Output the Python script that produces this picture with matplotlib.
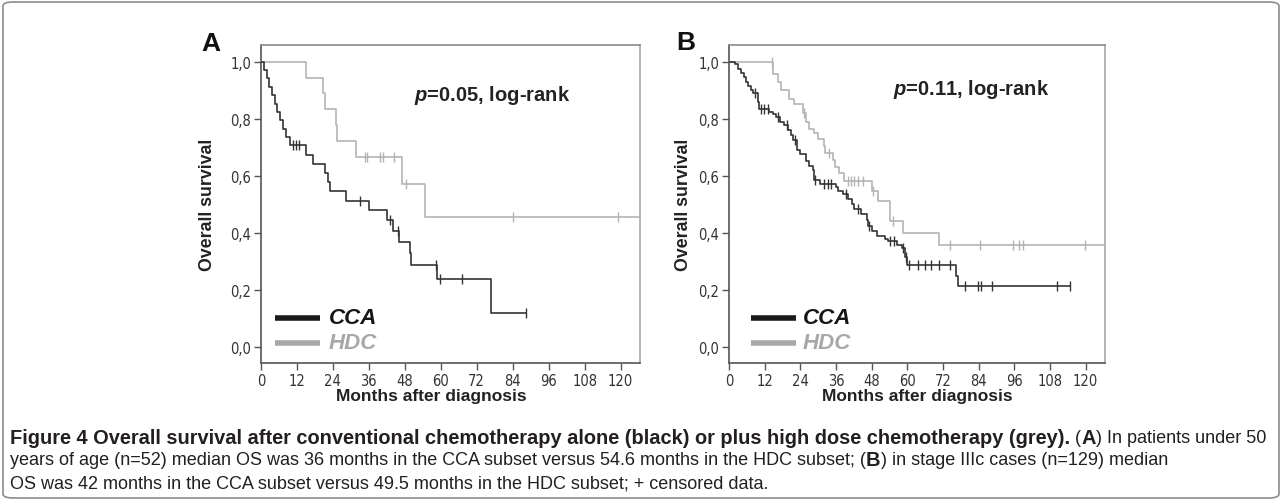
import matplotlib
matplotlib.use("Agg")
import matplotlib.pyplot as plt
import numpy as np
from matplotlib.patches import FancyBboxPatch

# Panel A: patients under 50 (time of drop in months, survival after the drop)
a_cca_t = [1.0, 1.9, 2.8, 3.7, 4.6, 5.5, 6.4, 7.4, 8.5, 9.7, 15.1, 17.3, 21.2, 22.3, 22.9,
           28.4, 36.1, 41.9, 43.9, 46.1, 49.7, 50.0, 58.8, 76.7]
a_cca_s = [0.971, 0.941, 0.912, 0.882, 0.853, 0.824, 0.794, 0.765, 0.735, 0.706, 0.674, 0.642,
           0.610, 0.578, 0.546, 0.512, 0.480, 0.446, 0.407, 0.369, 0.331, 0.287, 0.238, 0.119]
a_cca_cens = [10.6, 11.6, 12.6, 33.0, 42.9, 45.7, 58.5, 59.8, 67.2, 88.3]
a_cca_end = 88.3

a_hdc_t = [15.0, 20.6, 21.3, 25.0, 25.4, 31.7, 47.2, 54.7]
a_hdc_s = [0.944, 0.889, 0.833, 0.778, 0.722, 0.667, 0.571, 0.457]
a_hdc_cens = [34.7, 35.4, 39.7, 40.6, 44.4, 48.3, 84.0, 119.0]
a_hdc_end = 130.0

# Panel B: stage IIIc
b_cca_t = [2.0, 3.0, 4.0, 5.0, 5.7, 6.5, 7.3, 8.0, 9.6, 10.2, 13.6, 14.7, 15.8, 17.0, 18.6,
           20.0, 20.9, 21.5, 22.9, 24.0, 25.9, 27.0, 28.2, 28.7, 30.5, 36.0, 36.8, 38.5, 40.0,
           41.3, 42.2, 44.4, 46.4, 46.9, 48.2, 49.7, 52.5, 53.5, 56.5, 58.2, 59.2, 59.8, 76.5, 77.2]
b_cca_s = [0.99, 0.975, 0.96, 0.945, 0.93, 0.915, 0.90, 0.89, 0.86, 0.835, 0.825, 0.815, 0.805,
           0.79, 0.777, 0.76, 0.742, 0.725, 0.69, 0.675, 0.65, 0.635, 0.62, 0.585, 0.571, 0.559,
           0.545, 0.535, 0.52, 0.50, 0.485, 0.465, 0.446, 0.423, 0.405, 0.388, 0.377, 0.370,
           0.358, 0.347, 0.317, 0.289, 0.25, 0.214]
b_cca_cens = [8.7, 10.8, 11.9, 13.0, 16.4, 19.4, 22.3, 28.9, 31.8, 33.2, 34.3, 39.4, 43.4, 47.0,
              54.2, 55.5, 58.7, 59.4, 60.4, 63.7, 65.8, 67.9, 70.5, 74.2, 79.5, 83.7, 84.8, 88.4,
              110.3, 114.8]
b_cca_end = 114.8

b_hdc_t = [14.7, 16.4, 17.5, 20.3, 22.0, 24.8, 25.9, 27.0, 28.7, 30.0, 31.8, 32.3, 35.0, 35.7,
           37.0, 38.8, 48.0, 50.0, 54.2, 58.7, 70.8]
b_hdc_s = [0.957, 0.93, 0.90, 0.87, 0.85, 0.82, 0.79, 0.765, 0.75, 0.73, 0.705, 0.68, 0.655,
           0.632, 0.61, 0.58, 0.545, 0.51, 0.44, 0.40, 0.358]
b_hdc_cens = [14.5, 25.2, 33.5, 40.0, 41.1, 42.2, 43.3, 45.0, 48.6, 55.3, 74.4, 84.3, 95.7,
              97.4, 98.9, 119.9]
b_hdc_end = 130.0

x_ticks = list(range(0, 121, 12))
y_ticks = [0.0, 0.2, 0.4, 0.6, 0.8, 1.0]
y_labels = ["0,0", "0,2", "0,4", "0,6", "0,8", "1,0"]
groups = ["CCA", "HDC"]
p_texts = ["0.05", "0.11"]

DARK = "#333333"
LIGHT = "#b4b4b4"
SANS = ["Liberation Sans", "DejaVu Sans"]

plt.rcParams["mathtext.fontset"] = "custom"
plt.rcParams["mathtext.bfit"] = "Liberation Sans:bold:italic"
plt.rcParams["mathtext.bf"] = "Liberation Sans:bold"


def km_curve(ax, times, surv, cens, end, color):
    t = np.array([0.0] + times + [end])
    s = np.array([1.0] + surv + [surv[-1]])
    ax.step(t, s, where="post", color=color, lw=1.2, zorder=3, clip_on=True)
    idx = np.searchsorted(t, np.array(cens), side="right") - 1
    ax.plot(cens, s[idx], ls="none", marker="|", ms=7, mew=1.0, color=color, zorder=3)


def style_axes(ax):
    ax.set_xlim(0, 126.5)
    ax.set_ylim(-0.056, 1.058)
    ax.set_xticks(x_ticks)
    ax.set_xticklabels([str(v) for v in x_ticks], family="DejaVu Sans", stretch="condensed",
                       fontsize=10.5, color="#333333")
    ax.set_yticks(y_ticks)
    ax.set_yticklabels(y_labels, family="DejaVu Sans", stretch="condensed",
                       fontsize=10.5, color="#333333")
    ax.tick_params(direction="out", length=5, width=1, color="#555555", pad=2)
    ax.spines["left"].set_color("#555555")
    ax.spines["bottom"].set_color("#555555")
    ax.spines["top"].set_color("#8a8a8a")
    ax.spines["right"].set_color("#a8a8a8")
    for sp in ax.spines.values():
        sp.set_linewidth(1.2)


def legend(ax, x0, x1, xt):
    for (y, col, tcol, name) in [(0.142, "#1a1a1a", "#151515", groups[0]),
                                 (0.063, "#a8a8a8", "#a8a8a8", groups[1])]:
        ax.plot([x0, x1], [y, y], color=col, lw=4, transform=ax.transAxes, solid_capstyle="butt")
        ax.text(xt, y, name, transform=ax.transAxes, fontsize=16, fontweight="bold",
                style="italic", color=tcol, va="center", ha="left", family=SANS)


fig = plt.figure(figsize=(12.82, 5.02), dpi=100)

axA = fig.add_axes([261 / 1282, 138 / 502, 379 / 1282, 318 / 502])
axB = fig.add_axes([729 / 1282, 138 / 502, 376 / 1282, 318 / 502])

km_curve(axA, a_hdc_t, a_hdc_s, a_hdc_cens, a_hdc_end, LIGHT)
km_curve(axA, a_cca_t, a_cca_s, a_cca_cens, a_cca_end, DARK)
km_curve(axB, b_hdc_t, b_hdc_s, b_hdc_cens, b_hdc_end, LIGHT)
km_curve(axB, b_cca_t, b_cca_s, b_cca_cens, b_cca_end, DARK)

for ax, px, py, p, (l0, l1, lt) in [(axA, 0.405, 0.843, p_texts[0], (0.037, 0.156, 0.179)),
                                     (axB, 0.435, 0.864, p_texts[1], (0.058, 0.178, 0.197))]:
    style_axes(ax)
    legend(ax, l0, l1, lt)
    ax.text(px, py, r"$\bfit{p}$" + "=" + p + ", log-rank", transform=ax.transAxes,
            fontsize=14.5, fontweight="bold", color="#222222", va="center", family=SANS)

# panel letters, axis titles
fig.text(211 / 1282, 1 - 44 / 502, "A", fontsize=19, fontweight="bold", ha="center",
         va="center", family=SANS, color="#111111")
fig.text(686 / 1282, 1 - 43 / 502, "B", fontsize=19, fontweight="bold", ha="center",
         va="center", family=SANS, color="#111111")
for xl, xc in [(207, 431), (683, 917)]:
    fig.text(xl / 1282, 1 - 205 / 502, "Overall survival", rotation=90, fontsize=12.8,
             fontweight="bold", ha="center", va="center", family=SANS, color="#222222")
    fig.text(xc / 1282, 1 - 397 / 502, "Months after diagnosis", fontsize=12.5,
             fontweight="bold", ha="center", va="center", family=SANS, color="#222222")

# caption
cap_lines = [
    [("Figure 4 Overall survival after conventional chemotherapy alone (black) or plus high dose chemotherapy (grey).", "bold"),
     (" (", "normal"), ("A", "bold"), (") In patients under 50", "normal")],
    [("years of age (n=52) median OS was 36 months in the CCA subset versus 54.6 months in the HDC subset; (", "normal"),
     ("B", "bold"), (") in stage IIIc cases (n=129) median", "normal")],
    [("OS was 42 months in the CCA subset versus 49.5 months in the HDC subset; + censored data.", "normal")],
]
cap_y = [437, 459, 482]
cap_size = {"bold": 14.4, "normal": 13.0}
renderer = fig.canvas.get_renderer()
for parts, yy in zip(cap_lines, cap_y):
    x = 10 / 1282
    for s, w in parts:
        t = fig.text(x, 1 - yy / 502, s, fontsize=cap_size[w], fontweight=w, family=SANS,
                     color="#231f20", va="center_baseline", ha="left")
        x += t.get_window_extent(renderer).width / fig.bbox.width

fig.patches.append(FancyBboxPatch((3 / 1282, 3 / 502), 1276 / 1282, 496 / 502,
                                  boxstyle="round,pad=0,rounding_size=0.008",
                                  transform=fig.transFigure, fill=False,
                                  edgecolor="#8c8c8c", lw=1.2))

fig.savefig("out.png", dpi=100)
